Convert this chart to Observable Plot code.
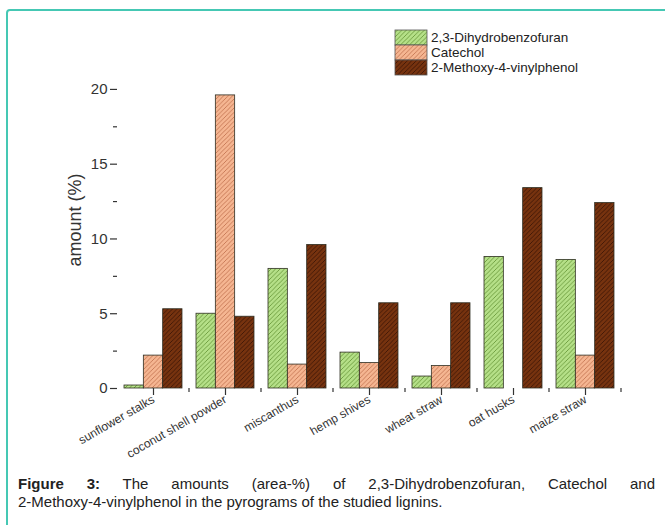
<!DOCTYPE html>
<html><head><meta charset="utf-8">
<script src="https://cdn.jsdelivr.net/npm/d3@7"></script>
<script src="https://cdn.jsdelivr.net/npm/@observablehq/plot@0.6"></script>
<style>
html,body{margin:0;padding:0;background:#fff;overflow:hidden}
body{width:665px;height:525px;position:relative;font-family:"Liberation Sans",Arial,sans-serif}
#frame{position:absolute;left:6px;top:9px;width:720px;height:580px;border:2px solid #45c8b4;border-radius:4px;box-sizing:border-box}
#chart{position:absolute;left:0;top:0}
#caption{position:absolute;left:18px;top:475px;width:637px;font-size:15px;line-height:17.5px;color:#222}
#caption .l1{text-align:justify;text-align-last:justify}
</style></head><body>
<div id="frame"></div>
<div id="chart"></div>
<div id="caption"><div class="l1"><b>Figure 3:</b> The amounts (area-%) of 2,3-Dihydrobenzofuran, Catechol and</div><div>2-Methoxy-4-vinylphenol in the pyrograms of the studied lignins.</div></div>
<script>
// ---- data ----
const categories = ["sunflower stalks","coconut shell powder","miscanthus","hemp shives","wheat straw","oat husks","maize straw"];
const seriesNames = ["2,3-Dihydrobenzofuran","Catechol","2-Methoxy-4-vinylphenol"];
const dihydrobenzofuran = [0.2, 5.0, 8.0, 2.4, 0.8, 8.8, 8.6];
const catechol = [2.2, 19.6, 1.6, 1.7, 1.5, 0, 2.2];
const methoxyVinylphenol = [5.3, 4.8, 9.6, 5.7, 5.7, 13.4, 12.4];
const yTicks = [0, 5, 10, 15, 20];
const yMinorTicks = [2.5, 7.5, 12.5, 17.5];
const yLabel = "amount (%)";

// ---- styles ----
const seriesValues = [dihydrobenzofuran, catechol, methoxyVinylphenol];
const hatch = [
  {id: "hatch-dhb", base: "#b5e088", line: "#6a9a3c"},
  {id: "hatch-cat", base: "#f5b692", line: "#c47653"},
  {id: "hatch-mvp", base: "#77330f", line: "#3e1606"}
];

const W = 665, H = 462, ML = 117, MR = 44, MT = 62, MB = 74;
const band = (W - ML - MR) / categories.length;
const barW = band * 0.2685;
const off = (band - 3 * barW) / 2;

const rows = seriesValues.map((vals, s) =>
  categories.map((c, i) => ({category: c, value: vals[i], series: seriesNames[s]})).filter(d => d.value > 0));

const barMarks = rows.map((data, s) => Plot.barY(data, {
  x: "category", y: "value",
  fill: `url(#${hatch[s].id})`,
  stroke: "#2e2e22", strokeWidth: 0.8,
  insetLeft: off + s * barW,
  insetRight: band - off - (s + 1) * barW
}));

const boundaryTicks = (index, scales, values, dims) => {
  const x = scales.x;
  const y0 = scales.y(0);
  const step = x(categories[1]) - x(categories[0]);
  const g = d3.create("svg:g").attr("stroke", "#333").attr("stroke-width", 1.2);
  for (let i = 1; i <= categories.length; i++) {
    const px = x(categories[0]) + i * step;
    g.append("line").attr("x1", px).attr("x2", px).attr("y1", y0).attr("y2", y0 + 4);
  }
  return g.node();
};

const svg = Plot.plot({
  width: W, height: H,
  marginLeft: ML, marginRight: MR, marginTop: MT, marginBottom: MB,
  style: {fontFamily: "Liberation Sans, Arial, sans-serif", color: "#333", background: "transparent"},
  x: {domain: categories, padding: 0},
  y: {domain: [0, 21.8]},
  marks: [
    ...barMarks,
    Plot.axisY({ticks: yTicks, tickSize: 7, tickPadding: 3, fontSize: 15, label: null, line: true, strokeWidth: 1.2}),
    Plot.axisY({ticks: yMinorTicks, tickSize: 4, text: null, label: null, strokeWidth: 1.2}),
    Plot.axisX({tickSize: 7, tickPadding: 3, tickRotate: -30, fontSize: 12, label: null, line: true, strokeWidth: 1.2}),
    boundaryTicks
  ]
});

const sel = d3.select(svg);
const defs = sel.insert("defs", ":first-child");
hatch.forEach(p => {
  const pat = defs.append("pattern").attr("id", p.id).attr("patternUnits", "userSpaceOnUse")
    .attr("width", 4.5).attr("height", 4.5);
  pat.append("rect").attr("width", 4.5).attr("height", 4.5).attr("fill", p.base);
  pat.append("path").attr("d", "M-1,1 l2,-2 M0,4.5 l4.5,-4.5 M3.5,5.5 l2,-2")
    .attr("stroke", p.line).attr("stroke-width", 0.9);
});

// y-axis title
sel.append("text").text(yLabel)
  .attr("transform", "translate(75,220) rotate(-90)")
  .attr("text-anchor", "middle").attr("dominant-baseline", "central")
  .attr("font-size", 18).attr("fill", "#333");

// legend
const leg = sel.append("g").attr("text-anchor", "start");
seriesNames.forEach((name, i) => {
  leg.append("rect").attr("x", 395).attr("y", 30 + i * 15).attr("width", 32).attr("height", 15)
    .attr("fill", `url(#${hatch[i].id})`).attr("stroke", "#555").attr("stroke-width", 0.8);
  leg.append("text").text(name).attr("x", 431).attr("y", 37.5 + i * 15)
    .attr("text-anchor", "start")
    .attr("dominant-baseline", "central").attr("font-size", 13.5).attr("fill", "#222");
});

document.getElementById("chart").appendChild(svg);
</script>
</body></html>
